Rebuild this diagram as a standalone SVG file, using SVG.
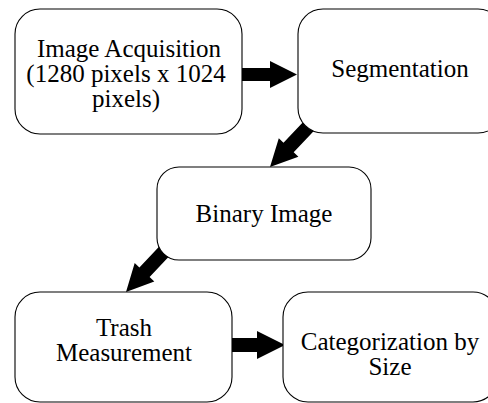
<svg xmlns="http://www.w3.org/2000/svg" width="488" height="403" viewBox="0 0 488 403">
<style>
.box{fill:#fff;stroke:#000;stroke-width:1.1}
.arr{fill:#000;stroke:none}
</style>
<rect width="488" height="403" fill="#fff"/>
<g id="connectors">
<polygon class="arr" points="236,68 270,68 270,61 297,74.5 270,88 270,81 236,81"/>
<polygon class="arr" points="323.3,121.1 293.7,152.3 298.4,156.8 270,167 278.8,138.2 283.5,142.7 313.1,111.5"/>
<polygon class="arr" points="179.1,245.8 149.6,277.1 154.3,281.6 126,292 134.7,263.1 139.4,267.5 168.9,236.2"/>
<polygon class="arr" points="226,338 257,338 257,331 285,345 257,359 257,352 226,352"/>
</g>
<g font-family="'Liberation Serif', Tinos, 'Times New Roman', 'DejaVu Serif', serif" font-size="25" fill="#000" text-anchor="middle">
<g id="node-acquisition">
<rect class="box" x="15" y="9" width="227" height="125" rx="25"/>
<text x="129" y="57">Image Acquisition</text>
<text x="126" y="82">(1280 pixels x 1024</text>
<text x="126" y="107">pixels)</text>
</g>
<g id="node-segmentation">
<rect class="box" x="298" y="9" width="205" height="124" rx="25"/>
<text x="400" y="77">Segmentation</text>
</g>
<g id="node-binary">
<rect class="box" x="157" y="167" width="214" height="93" rx="22"/>
<text x="264" y="222">Binary Image</text>
</g>
<g id="node-measurement">
<rect class="box" x="15" y="292" width="217" height="110" rx="25"/>
<text x="124" y="336">Trash</text>
<text x="124" y="361">Measurement</text>
</g>
<g id="node-categorization">
<rect class="box" x="283" y="292" width="215" height="110" rx="25"/>
<text x="390" y="350">Categorization by</text>
<text x="390" y="375">Size</text>
</g>
</g>
</svg>
